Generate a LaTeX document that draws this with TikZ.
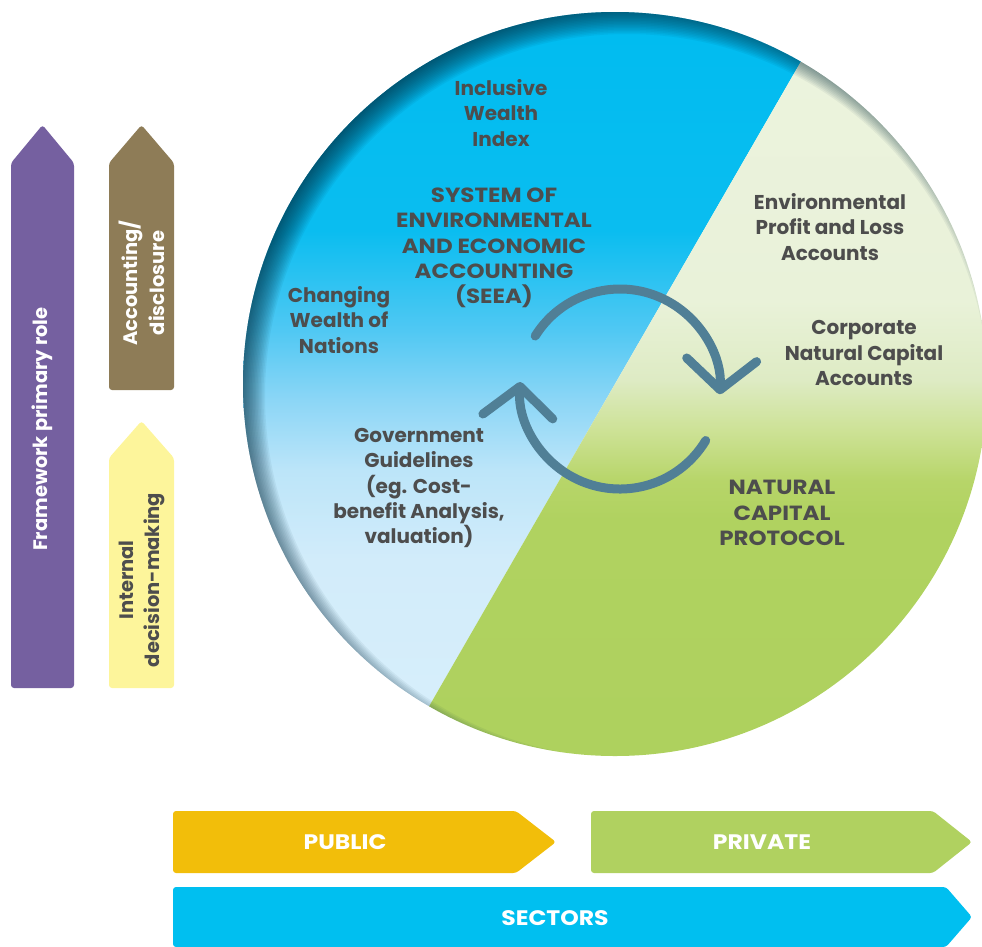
\documentclass[tikz,border=0pt]{standalone}
\usepackage{fontspec}
\setmainfont{Poppins}
\usetikzlibrary{arrows.meta}
\definecolor{framepurple}{RGB}{117,96,160}
\definecolor{accbrown}{RGB}{142,124,87}
\definecolor{intyellow}{RGB}{253,245,155}
\definecolor{publicorange}{RGB}{242,190,10}
\definecolor{privgreen}{RGB}{176,209,96}
\definecolor{sectcyan}{RGB}{0,191,240}
\definecolor{cyclesteel}{RGB}{80,127,150}
\definecolor{labelgrey}{RGB}{77,77,77}
\definecolor{rimshade}{RGB}{0,40,58}
\definecolor{bA}{RGB}{0,188,240}
\definecolor{bB}{RGB}{10,189,240}
\definecolor{bC}{RGB}{80,200,243}
\definecolor{bD}{RGB}{140,214,246}
\definecolor{bE}{RGB}{188,229,249}
\definecolor{bF}{RGB}{210,236,250}
\definecolor{bG}{RGB}{216,239,251}
\definecolor{gA}{RGB}{236,243,222}
\definecolor{gB}{RGB}{233,242,217}
\definecolor{gC}{RGB}{222,235,196}
\definecolor{gD}{RGB}{205,226,150}
\definecolor{gE}{RGB}{183,213,105}
\definecolor{gF}{RGB}{176,210,96}
\definecolor{gG}{RGB}{174,209,94}
\pgfdeclareverticalshading{blueside}{100bp}{color(0bp)=(bG); color(25bp)=(bG);
  color(38.2bp)=(bF); color(44.2bp)=(bE); color(48.9bp)=(bD); color(53.6bp)=(bC);
  color(60.3bp)=(bB); color(75bp)=(bA); color(100bp)=(bA)}
\pgfdeclareverticalshading{greenside}{100bp}{color(0bp)=(gG); color(25bp)=(gG);
  color(40.9bp)=(gF); color(43.5bp)=(gE); color(46.9bp)=(gD); color(50.3bp)=(gC);
  color(55.6bp)=(gB); color(75bp)=(gA); color(100bp)=(gA)}
\tikzset{
	lbl/.style={font=\bfseries\fontsize{20}{25.3}\selectfont,text=labelgrey,align=center,inner sep=0pt},
	capslbl/.style={lbl,font=\bfseries\fontsize{20.5}{25.3}\selectfont\addfontfeatures{FakeStretch=1.12}},
	bandtext/.style={font=\bfseries\fontsize{19.5}{26.5}\selectfont,text=white,align=center,inner sep=0pt},
	bandcaps/.style={bandtext,font=\bfseries\fontsize{21}{26}\selectfont\addfontfeatures{FakeStretch=1.12}},
	band/.style={rounded corners=3pt},
	cycarrow/.style={draw=cyclesteel,line width=9pt,line cap=round,-{Straight Barb[length=30pt,width=70pt,round]}},
	rim/.style={fill=rimshade,fill opacity=0.055,even odd rule}
}

\begin{document}
\begin{tikzpicture}[x=1pt,y=-1pt]
            \useasboundingbox (0,0) rectangle (982,946);
            \coordinate (ctr) at (615,384);
            \coordinate (off) at (627,396);
            \coordinate (cyc) at (620,389);
            \begin{scope}
                \clip (ctr) circle[radius=372];
                \shade[shading=blueside] (230,12) -- (829.5,12) -- (400.4,756) -- (230,756) -- cycle;
                \shade[shading=greenside] (829.5,12) -- (1000,12) -- (1000,756) -- (400.4,756) -- cycle;
                \foreach \r in {362,363.5,...,392}
                    \fill[rim] (ctr) circle[radius=412] (off) circle[radius=\r];
            \end{scope}
            \node[lbl] (iwi) at (501,113) {Inclusive\\Wealth\\Index};
            \node[capslbl] (seea) at (494,248) {SYSTEM OF\\ENVIRONMENTAL\\AND ECONOMIC\\ACCOUNTING\\(SEEA)};
            \node[lbl] (cwn) at (339,320) {Changing\\Wealth of\\Nations};
            \node[lbl] (epl) at (830,227) {Environmental\\Profit and Loss\\Accounts};
            \node[lbl] (cnca) at (864,353) {Corporate\\Natural Capital\\Accounts};
            \node[lbl] (govt) at (419,488) {Government\\Guidelines\\(eg. Cost-\\benefit Analysis,\\valuation)};
            \node[capslbl] (ncp) at (782,513) {NATURAL\\CAPITAL\\PROTOCOL};
            \draw[cycarrow] (cyc) ++(-148:100) arc[start angle=-148,end angle=3,radius=100];
            \draw[cycarrow] (cyc) ++(31:100) arc[start angle=31,end angle=184,radius=100];
            \fill[band,framepurple] (11,688) -- (11,163) -- (42.5,125) -- (74,163) -- (74,688) -- cycle;
            \fill[band,accbrown] (109,390) -- (109,163) -- (141.5,125) -- (174,163) -- (174,390) -- cycle;
            \fill[band,intyellow] (109,688) -- (109,458) -- (141.5,421) -- (174,458) -- (174,688) -- cycle;
            \node[bandtext,rotate=90] (frame) at (42.5,429) {Framework primary role};
            \node[bandtext,rotate=90] (acct) at (142,283) {Accounting/\\disclosure};
            \node[bandtext,rotate=90,text=labelgrey] (intl) at (142,580) {Internal\\decision-making};
            \fill[band,publicorange] (173,811) -- (516,811) -- (556,842) -- (516,873) -- (173,873) -- cycle;
            \fill[band,privgreen] (591,811) -- (933,811) -- (972,842) -- (933,873) -- (591,873) -- cycle;
            \fill[band,sectcyan] (173,887) -- (946,887) -- (972,917) -- (946,947) -- (173,947) -- cycle;
            \node[bandcaps] (public) at (345,842) {PUBLIC};
            \node[bandcaps] (private) at (762,842) {PRIVATE};
            \node[bandcaps] (sectors) at (555,918) {SECTORS};
        \end{tikzpicture}
\end{document}
